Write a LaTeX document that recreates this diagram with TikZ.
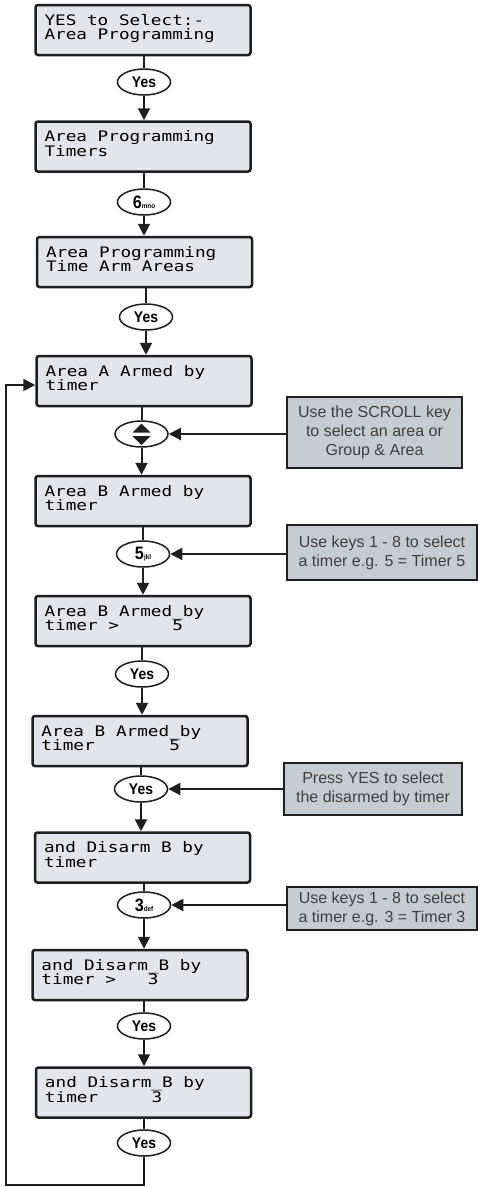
\documentclass[tikz,border=0pt]{standalone}
\usepackage{fontspec}
\usetikzlibrary{arrows.meta,shapes.geometric}
\newfontfamily\lcdfont[FakeStretch=1.22]{DejaVu Sans Mono}
\newfontfamily\notefont{Liberation Sans}
\newfontfamily\keyfont[FakeStretch=0.9]{Liberation Sans}
\definecolor{lcdfill}{HTML}{E3E5EA}
\definecolor{notefill}{HTML}{C7CBD2}
\definecolor{ink}{HTML}{1E1E1E}
\newcommand{\lcdtxt}[2]{\parbox[c][50pt][t]{197pt}{\lcdfont\fontsize{14.5}{14.5}\selectfont\lineskiplimit=-30pt\vspace*{9pt}\rule{0pt}{11pt}#1\par\rule{0pt}{11pt}#2\par}}
\newcommand{\keynum}[2]{\fontsize{18}{18}\selectfont #1\fontsize{7}{7}\selectfont #2}
\tikzset{
  lcd/.style={draw=ink, fill=lcdfill, line width=2.5pt, rounded corners=2.5pt, inner sep=0pt, minimum width=215pt, minimum height=50pt},
  key/.style={ellipse, draw=ink, fill=white, line width=1.5pt, inner sep=0pt, minimum width=53pt, minimum height=26pt, font=\keyfont\bfseries\fontsize{15.5}{15.5}\selectfont},
  note/.style={draw=ink, fill=notefill, line width=2.5pt, inner sep=0pt, align=center, font=\notefont\fontsize{16}{19}\selectfont, text=ink!85},
  link/.style={draw=ink, line width=2pt},
  arr/.style={link, -{Triangle[length=12pt,width=12pt]}},
}
\begin{document}
\begin{tikzpicture}[x=1pt,y=-1pt]
\useasboundingbox (0,0) rectangle (478,1187);
% LCD displays
\node[lcd] (b1) at (143,30) {\lcdtxt{YES to Select:-}{Area Programming}};
\node[lcd] (b2) at (143,146.5) {\lcdtxt{Area Programming}{Timers}};
\node[lcd] (b3) at (144.5,262) {\lcdtxt{Area Programming}{Time Arm Areas}};
\node[lcd] (b4) at (144,381) {\lcdtxt{Area A Armed by}{timer}};
\node[lcd] (b5) at (143,501) {\lcdtxt{Area B Armed by}{timer}};
\node[lcd] (b6) at (143,621) {\lcdtxt{Area B Armed\_by}{timer >~~~~~5}};
\node[lcd] (b7) at (140,741) {\lcdtxt{Area B Armed\_by}{timer~~~~~~~5}};
\node[lcd] (b8) at (142.5,857.5) {\lcdtxt{and Disarm B by}{timer}};
\node[lcd] (b9) at (140,975) {\lcdtxt{and Disarm\_B by}{timer >~~~3}};
\node[lcd] (b10) at (143.5,1092.5) {\lcdtxt{and Disarm\_B by}{timer~~~~~3}};
% keys
\node[key] (o1) at (144,82) {Yes};
\node[key] (o2) at (144,202) {\keynum{6}{mno}};
\node[key] (o3) at (146,317) {Yes};
\node[key] (o4) at (141.5,434) {};
\node[key] (o5) at (143,554) {\keynum{5}{jkl}};
\node[key] (o6) at (142,674) {Yes};
\node[key] (o7) at (141,789) {Yes};
\node[key] (o8) at (144,905) {\keynum{3}{def}};
\node[key] (o9) at (144,1026) {Yes};
\node[key] (o10) at (144,1143) {Yes};
\fill[ink, shift={(o4.center)}] (-9,-1.5) -- (9,-1.5) -- (0,-10.5) -- cycle;
\fill[ink, shift={(o4.center)}] (-9,2) -- (9,2) -- (0,11) -- cycle;
% notes
\node[note, minimum width=175pt, minimum height=71pt] (n1) at (374.5,432.5) {Use the SCROLL key\\to select an area or\\Group \& Area};
\node[note, minimum width=190pt, minimum height=55pt] (n2) at (382,552.5) {Use keys 1 - 8 to select\\a timer e.g. 5 = Timer 5};
\node[note, minimum width=178pt, minimum height=52pt] (n3) at (373,789) {Press YES to select\\the disarmed by timer};
\node[note, minimum width=190pt, minimum height=43pt] (n4) at (382,908.5) {Use keys 1 - 8 to select\\a timer e.g. 3 = Timer 3};
% main flow
\foreach \b/\o/\c in {b1/o1/b2, b2/o2/b3, b3/o3/b4, b4/o4/b5, b5/o5/b6, b6/o6/b7, b7/o7/b8, b8/o8/b9, b9/o9/b10} {
  \draw[link] (\b.south -| \o) -- (\o.north);
  \draw[arr] (\o.south) -- (\o.south |- \c.north);
}
\draw[link] (b10.south -| o10) -- (o10.north);
% loop back
\coordinate (lc) at (6,1185);
\coordinate (la) at (6,385);
\draw[arr, line width=1.8pt] (o10.south) -- (o10.south |- lc) -- (lc) -- (la) -- (la -| b4.west);
% note arrows
\draw[arr] (n1.west |- o4) -- (o4);
\draw[arr] (n2.west |- o5) -- (o5);
\draw[arr] (n3.west |- o7) -- (o7);
\draw[arr] (n4.west |- o8) -- (o8);
\end{tikzpicture}
\end{document}
